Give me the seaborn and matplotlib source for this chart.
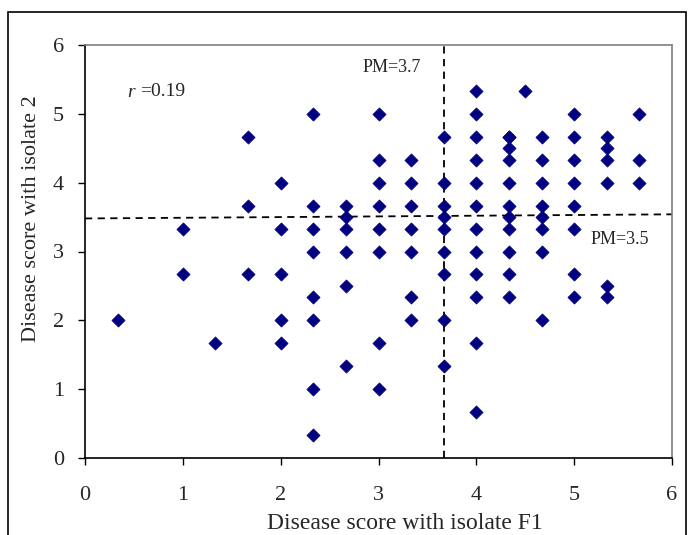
import matplotlib
matplotlib.use("Agg")
import matplotlib.pyplot as plt
import seaborn as sns
import pandas as pd
from matplotlib.patches import Rectangle

t = 1/3
# Disease scores (x = isolate F1, y = isolate 2)
x_f1 = (
    [t] +
    [1, 1] +
    [1 + t] +
    [1 + 2*t] * 3 +
    [2] * 5 +
    [2 + t] * 8 +
    [2 + 2*t] * 6 +
    [3] * 8 +
    [3 + t] * 7 +
    [3 + 2*t] * 9 +
    [4] * 12 +
    [4 + t] * 11 +
    [4.5] +
    [4 + 2*t] * 8 +
    [5] * 8 +
    [5 + t] * 6 +
    [5 + 2*t] * 3
)
y_iso2 = (
    [2] +
    [3 + t, 2 + 2*t] +
    [1 + 2*t] +
    [4 + 2*t, 3 + 2*t, 2 + 2*t] +
    [4, 3 + t, 2 + 2*t, 2, 1 + 2*t] +
    [5, 3 + 2*t, 3 + t, 3, 2 + t, 2, 1, t] +
    [3 + 2*t, 3.5, 3 + t, 3, 2.5, 1 + t] +
    [5, 4 + t, 4, 3 + 2*t, 3 + t, 3, 1 + 2*t, 1] +
    [4 + t, 4, 3 + 2*t, 3 + t, 3, 2 + t, 2] +
    [4 + 2*t, 4, 3 + 2*t, 3.5, 3 + t, 3, 2 + 2*t, 2, 1 + t] +
    [5 + t, 5, 4 + 2*t, 4 + t, 4, 3 + 2*t, 3 + t, 3, 2 + 2*t, 2 + t, 1 + 2*t, 2*t] +
    [4 + 2*t, 4 + 2*t, 4.5, 4 + t, 4, 3 + 2*t, 3.5, 3 + t, 3, 2 + 2*t, 2 + t] +
    [5 + t] +
    [4 + 2*t, 4 + t, 4, 3 + 2*t, 3.5, 3 + t, 3, 2] +
    [5, 4 + 2*t, 4 + t, 4, 3 + 2*t, 3 + t, 2 + 2*t, 2 + t] +
    [4 + 2*t, 4.5, 4 + t, 4, 2.5, 2 + t] +
    [5, 4 + t, 4]
)

pm_x = 3.67               # population mean, isolate F1
pm_y_line = [3.48, 3.54]  # horizontal mean line (left, right ends)
pm_span = [0, 6]
r_value = 0.19

df = pd.DataFrame({"F1": x_f1, "iso2": y_iso2})

sns.set_style("white")
plt.rcParams["font.family"] = ["Liberation Serif", "DejaVu Serif"]

fig = plt.figure(figsize=(6.88, 5.35), dpi=100)
ax = fig.add_axes([85/688, 1 - 458/535, (672-85)/688, (458-45)/535])

sns.scatterplot(data=df, x="F1", y="iso2", marker="D", s=45,
                color="#000080", edgecolor="#000080", linewidth=0.5, ax=ax, zorder=3)

ax.plot([pm_x, pm_x], pm_span, ls=(0, (4, 3)), color="black", lw=1.3, zorder=2)
ax.plot(pm_span, pm_y_line, ls=(0, (4, 3)), color="black", lw=1.3, zorder=2)

ax.set_xlim(0, 6)
ax.set_ylim(0, 6)
ax.set_xticks(range(0, 7))
ax.set_yticks(range(0, 7))
ax.tick_params(axis="both", direction="out", length=5, width=1, labelsize=16,
               bottom=True, left=True, color="black")
ax.tick_params(axis="x", pad=15)
ax.tick_params(axis="y", pad=10)
for s in ["left", "bottom"]:
    ax.spines[s].set_color("black")
    ax.spines[s].set_linewidth(1.2)
for s in ["top", "right"]:
    ax.spines[s].set_color("#808080")
    ax.spines[s].set_linewidth(1.2)

ax.set_xlabel("Disease score with isolate F1", fontsize=17)
ax.set_ylabel("Disease score with isolate 2", fontsize=16)
ax.xaxis.set_label_coords(0.545, -0.133)
ax.yaxis.set_label_coords(-0.075, 0.58)

ax.text(0.43, 5.31, "r", fontsize=14, fontstyle="italic", va="center", ha="left")
ax.text(0.56, 5.33, f"={r_value}", fontsize=14, va="center", ha="left")
ax.text(3.14, 5.67, "PM=3.7", fontsize=13, va="center", ha="center")
ax.text(5.47, 3.17, "PM=3.5", fontsize=13, va="center", ha="center")

fig.patches.append(Rectangle((8/688, -0.01), 1 - 8/688 - 2.5/688, 1 - 12/535 + 0.01,
                             transform=fig.transFigure, fill=False,
                             edgecolor="black", lw=1.2))

fig.savefig("out.png", dpi=100)
